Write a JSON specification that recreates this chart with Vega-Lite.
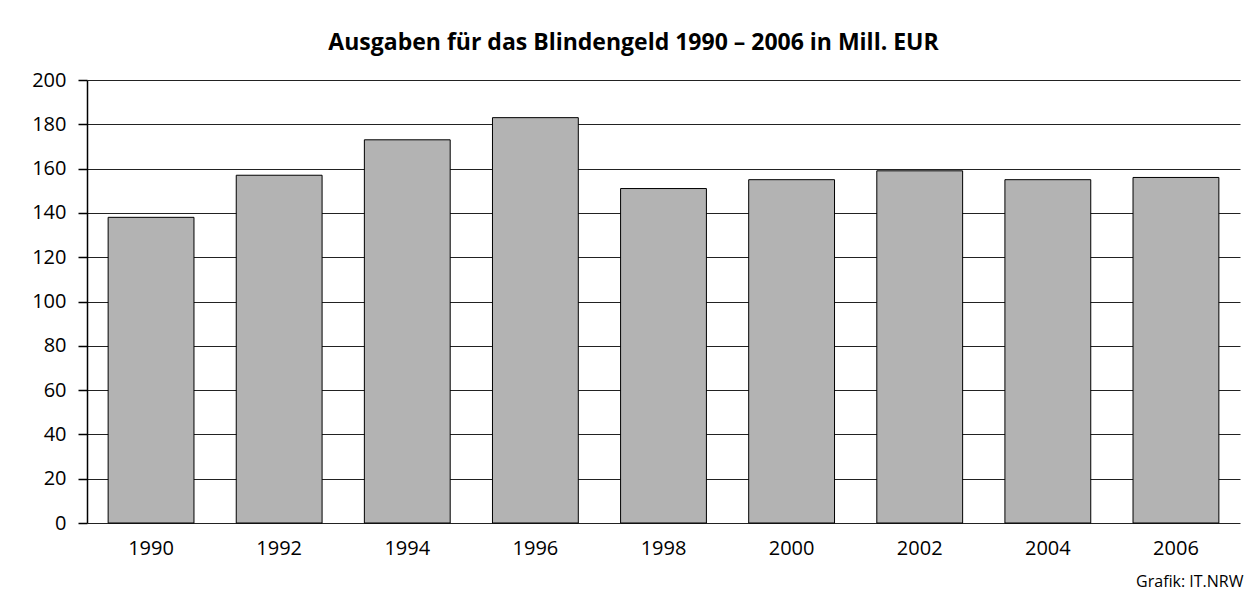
{
  "$schema": "https://vega.github.io/schema/vega-lite/v6.json",
  "autosize": {"type": "none"},
  "width": 1153,
  "height": 443,
  "padding": {"left": 87, "top": 80, "right": 7, "bottom": 71},
  "background": "white",
  "config": {
    "font": "Open Sans",
    "view": {"stroke": null}
  },
  "title": {
    "text": "Ausgaben für das Blindengeld 1990 – 2006 in Mill. EUR",
    "font": "Open Sans",
    "fontSize": 23,
    "fontWeight": "bold",
    "color": "black",
    "anchor": "middle",
    "frame": "group",
    "baseline": "alphabetic",
    "offset": 0,
    "dx": -30,
    "dy": 3
  },
  "data": {
    "values": [
      {"Jahr": "1990", "Ausgaben": 138},
      {"Jahr": "1992", "Ausgaben": 157},
      {"Jahr": "1994", "Ausgaben": 173},
      {"Jahr": "1996", "Ausgaben": 183},
      {"Jahr": "1998", "Ausgaben": 151},
      {"Jahr": "2000", "Ausgaben": 155},
      {"Jahr": "2002", "Ausgaben": 159},
      {"Jahr": "2004", "Ausgaben": 155},
      {"Jahr": "2006", "Ausgaben": 156}
    ]
  },
  "mark": {"type": "bar", "fill": "#b3b3b3", "stroke": "black", "strokeWidth": 1},
  "encoding": {
    "x": {
      "field": "Jahr",
      "type": "nominal",
      "scale": {"paddingInner": 0.33, "paddingOuter": 0.165},
      "axis": {
        "title": "Grafik: IT.NRW",
        "titleFont": "Open Sans",
        "titleFontSize": 16,
        "titleFontWeight": "normal",
        "titleColor": "black",
        "titleAnchor": "end",
        "titleAlign": "right",
        "titleBaseline": "alphabetic",
        "titleX": 1156,
        "titleY": 63,
        "labelAngle": 0,
        "labelFont": "Open Sans",
        "labelFontSize": 20,
        "labelColor": "black",
        "labelPadding": 15,
        "domain": false,
        "ticks": false,
        "grid": false
      }
    },
    "y": {
      "field": "Ausgaben",
      "type": "quantitative",
      "scale": {"domain": [0, 200], "nice": false},
      "axis": {
        "title": null,
        "values": [0, 20, 40, 60, 80, 100, 120, 140, 160, 180, 200],
        "labelFont": "Open Sans",
        "labelFontSize": 20,
        "labelColor": "black",
        "labelPadding": 12,
        "tickSize": 9,
        "tickColor": "black",
        "tickWidth": 1.5,
        "domainColor": "black",
        "domainWidth": 1.5,
        "grid": true,
        "gridColor": "#222222",
        "gridWidth": 1,
        "gridOpacity": 1
      }
    }
  }
}
